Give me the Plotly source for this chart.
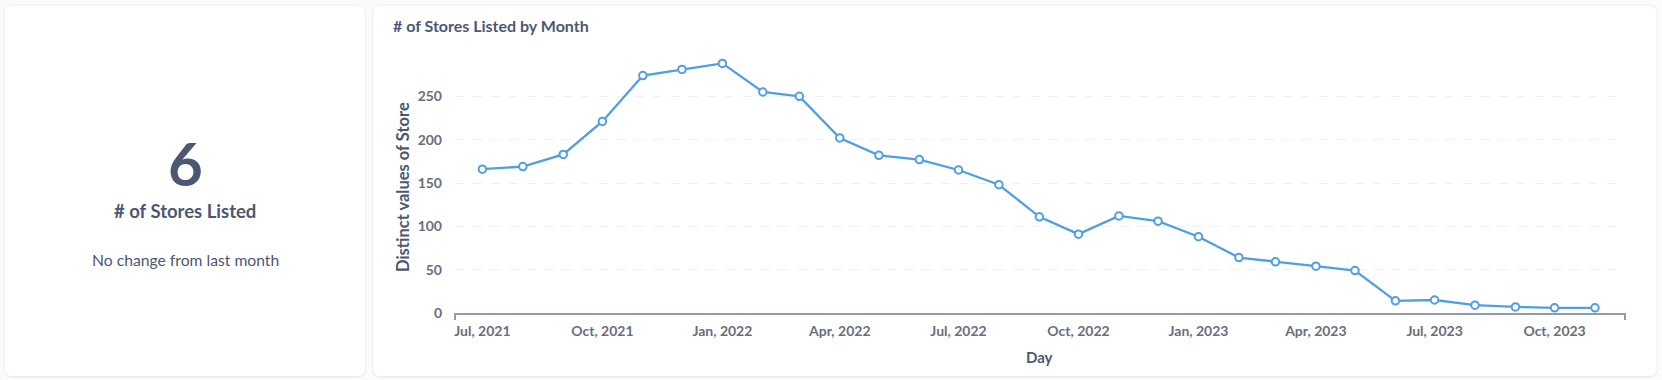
import plotly.graph_objects as go

# ---------------- data ----------------
months = [
    "2021-07-01", "2021-08-01", "2021-09-01", "2021-10-01", "2021-11-01", "2021-12-01",
    "2022-01-01", "2022-02-01", "2022-03-01", "2022-04-01", "2022-05-01", "2022-06-01",
    "2022-07-01", "2022-08-01", "2022-09-01", "2022-10-01", "2022-11-01", "2022-12-01",
    "2023-01-01", "2023-02-01", "2023-03-01", "2023-04-01", "2023-05-01", "2023-06-01",
    "2023-07-01", "2023-08-01", "2023-09-01", "2023-10-01", "2023-11-01",
]
stores = [
    166, 169, 183, 221, 274, 281,
    288, 255, 250, 202, 182, 177,
    165, 148, 111, 91, 112, 106,
    88, 64, 59, 54, 49, 14,
    15, 9, 7, 6, 6,
]
x_tick_vals = ["2021-07-01", "2021-10-01", "2022-01-01", "2022-04-01", "2022-07-01",
               "2022-10-01", "2023-01-01", "2023-04-01", "2023-07-01", "2023-10-01"]
x_tick_text = ["Jul, 2021", "Oct, 2021", "Jan, 2022", "Apr, 2022", "Jul, 2022",
               "Oct, 2022", "Jan, 2023", "Apr, 2023", "Jul, 2023", "Oct, 2023"]
y_tick_vals = [0, 50, 100, 150, 200, 250]

scalar_value = "6"
scalar_title = "# of Stores Listed"
scalar_sub = "No change from last month"
chart_title = "# of Stores Listed by Month"
y_title = "Distinct values of Store"
x_title = "Day"

# ---------------- layout geometry (pixels) ----------------
W, H = 1662, 380
L, R, T, B = 455, 37, 53, 67
PW, PH = W - L - R, H - T - B

def px(X, Y):
    return (X - L) / PW, (H - B - Y) / PH

def rounded_rect(x0, y0, x1, y1, r):
    # pixel coords (y down) -> paper path with rounded corners
    def p(X, Y):
        a, b = px(X, Y)
        return f"{a:.6f},{b:.6f}"
    return (f"M {p(x0 + r, y0)} L {p(x1 - r, y0)} Q {p(x1, y0)} {p(x1, y0 + r)} "
            f"L {p(x1, y1 - r)} Q {p(x1, y1)} {p(x1 - r, y1)} "
            f"L {p(x0 + r, y1)} Q {p(x0, y1)} {p(x0, y1 - r)} "
            f"L {p(x0, y0 + r)} Q {p(x0, y0)} {p(x0 + r, y0)} Z")

DARK = "#4C5773"
MED = "#696E7B"
BLUE = "#509EE3"
FONT = "Lato"

fig = go.Figure()
fig.add_trace(go.Scatter(
    x=months, y=stores, mode="lines+markers",
    line=dict(color=BLUE, width=2.3),
    marker=dict(size=7.5, color="white", line=dict(color=BLUE, width=2)),
    cliponaxis=False, hoverinfo="x+y",
))

shapes = []
for (x0, y0, x1, y1) in [(4, 5, 365.5, 376.5), (372.5, 5, 1657, 376.5)]:
    # soft shadow
    shapes.append(dict(type="path", xref="paper", yref="paper", layer="below",
                       path=rounded_rect(x0, y0 + 1, x1, y1 + 1.5, 8),
                       fillcolor="#EEF0F3", line=dict(width=0)))
    shapes.append(dict(type="path", xref="paper", yref="paper", layer="below",
                       path=rounded_rect(x0, y0, x1, y1, 8),
                       fillcolor="white", line=dict(color="#EDF0F3", width=1)))
# end ticks on x axis
for xe in (0, 1):
    shapes.append(dict(type="line", xref="paper", yref="paper",
                       x0=xe, x1=xe, y0=0, y1=-7 / PH,
                       line=dict(color="#949AAB", width=2)))

annotations = []
def ann(text, X, Y, size, color=DARK, bold=True, angle=0, xanchor="center"):
    a, b = px(X, Y)
    annotations.append(dict(
        text=f"<b>{text}</b>" if bold else text, x=a, y=b, xref="paper", yref="paper",
        showarrow=False, xanchor=xanchor, yanchor="middle", textangle=angle,
        font=dict(family=FONT, size=size, color=color)))

ann(scalar_value, 185, 163, 60)
ann(scalar_title, 185, 211, 18.5)
ann(scalar_sub, 185, 260, 15.7, bold=False)
ann(chart_title, 391, 26, 16, xanchor="left")
ann(y_title, 403, 187, 16.5, angle=-90)
ann(x_title, 1039, 357, 15)

fig.update_layout(
    width=W, height=H,
    margin=dict(l=L, r=R, t=T, b=B, pad=0),
    paper_bgcolor="#F9FBFC", plot_bgcolor="rgba(0,0,0,0)",
    showlegend=False,
    shapes=shapes, annotations=annotations,
    font=dict(family=FONT, color=MED),
)
fig.update_xaxes(
    type="date", range=["2021-06-10", "2023-11-24"],
    tickvals=x_tick_vals, ticktext=x_tick_text,
    tickfont=dict(family=FONT, size=14, color=MED, weight="bold"),
    showgrid=False, zeroline=False, showline=True, linecolor="#949AAB", linewidth=2,
    ticks="", ticklabelstandoff=4,
)
fig.update_yaxes(
    range=[0, 300], tickvals=y_tick_vals,
    tickfont=dict(family=FONT, size=14, color=MED, weight="bold"),
    showgrid=True, gridcolor="#EDF0F3", griddash="dash", gridwidth=1,
    zeroline=False, showline=False, ticks="", ticklabelstandoff=12,
)

fig.write_html("out.html", config={"displayModeBar": False},
               post_script="document.body.style.margin='0';document.body.style.overflow='hidden';")
